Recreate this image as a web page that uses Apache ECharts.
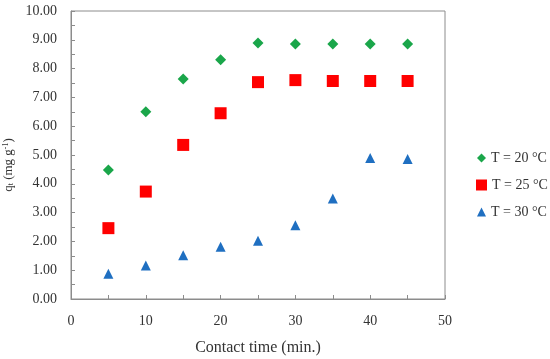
<!DOCTYPE html>
<html>
<head>
<meta charset="utf-8">
<script src="https://cdn.jsdelivr.net/npm/echarts@6/dist/echarts.min.js"></script>
<style>html,body{margin:0;padding:0;background:#fff}#c{width:550px;height:359px}</style>
</head>
<body>
<div id="c"></div>
<script>
var times = [5, 10, 15, 20, 25, 30, 35, 40, 45];
var q20 = [4.48, 6.50, 7.64, 8.31, 8.89, 8.85, 8.85, 8.85, 8.85];
var q25 = [2.46, 3.73, 5.35, 6.45, 7.53, 7.60, 7.57, 7.57, 7.57];
var q30 = [0.88, 1.16, 1.52, 1.81, 2.02, 2.56, 3.49, 4.90, 4.86];
var seriesNames = ['T = 20 °C', 'T = 25 °C', 'T = 30 °C'];

function pairs(xs, ys) { return xs.map(function (x, i) { return [x, ys[i]]; }); }

var FONT = 'Liberation Serif';
var axisColor = '#8c8c8c';
var chart = echarts.init(document.getElementById('c'), null, {renderer: 'canvas'});
chart.setOption({
  animation: false,
  backgroundColor: '#fff',
  textStyle: {fontFamily: FONT, color: '#333'},
  grid: {left: 71, right: 105, top: 11, bottom: 60, show: true, borderColor: axisColor, borderWidth: 1,
    containLabel: false, outerBoundsMode: 'none'},
  xAxis: {
    type: 'value', min: 0, max: 50, interval: 10,
    name: 'Contact time (min.)', nameLocation: 'middle', nameGap: 41,
    nameTextStyle: {fontFamily: FONT, fontSize: 16, color: '#333'},
    axisLine: {show: true, lineStyle: {color: axisColor}},
    axisTick: {show: true, inside: true, length: 4, lineStyle: {color: axisColor}},
    minorTick: {show: true, splitNumber: 2, length: 4, lineStyle: {color: axisColor}},
    axisLabel: {fontFamily: FONT, fontSize: 14, color: '#333', margin: 15},
    splitLine: {show: false}
  },
  yAxis: {
    type: 'value', min: 0, max: 10, interval: 1,
    name: '{q|q}{sub|t}{n| (mg g}{sup|-1}{n|)}', nameLocation: 'middle', nameGap: 52,
    nameTextStyle: {
      fontFamily: FONT, fontSize: 13, color: '#333', padding: [0, 20, 0, 0],
      rich: {
        q: {fontFamily: FONT, fontSize: 13, color: '#333'},
        n: {fontFamily: FONT, fontSize: 13, color: '#333'},
        sub: {fontFamily: FONT, fontSize: 8, color: '#333', verticalAlign: 'bottom', padding: [5, 0, 0, 0]},
        sup: {fontFamily: FONT, fontSize: 8, color: '#333', verticalAlign: 'top', padding: [0, 0, 5, 0]}
      }
    },
    axisLine: {show: true, lineStyle: {color: axisColor}},
    axisTick: {show: true, inside: true, length: 4, lineStyle: {color: axisColor}},
    minorTick: {show: true, splitNumber: 2, length: 4, lineStyle: {color: axisColor}},
    axisLabel: {fontFamily: FONT, fontSize: 14, color: '#333', margin: 14,
      formatter: function (v) { return v.toFixed(2); }},
    splitLine: {show: false}
  },
  legend: [
    {data: [seriesNames[0]], orient: 'vertical', left: 472, top: 146, itemWidth: 9, itemHeight: 9, itemGap: 4,
      textStyle: {fontFamily: FONT, fontSize: 14, color: '#333'}},
    {data: [seriesNames[1]], orient: 'vertical', left: 471, top: 173, itemWidth: 11, itemHeight: 11, itemGap: 4,
      textStyle: {fontFamily: FONT, fontSize: 14, color: '#333'}},
    {data: [seriesNames[2]], orient: 'vertical', left: 472, top: 200, itemWidth: 9, itemHeight: 9, itemGap: 4,
      textStyle: {fontFamily: FONT, fontSize: 14, color: '#333'}}
  ],
  series: [
    {name: seriesNames[0], type: 'scatter', symbol: 'diamond', symbolSize: 11,
      itemStyle: {color: '#1aa64a', opacity: 1}, data: pairs(times, q20)},
    {name: seriesNames[1], type: 'scatter', symbol: 'rect', symbolSize: 12,
      itemStyle: {color: '#ff0000', opacity: 1}, data: pairs(times, q25)},
    {name: seriesNames[2], type: 'scatter', symbol: 'triangle', symbolSize: [10, 10],
      itemStyle: {color: '#1f6fc1', opacity: 1}, data: pairs(times, q30)}
  ]
});
</script>
</body>
</html>
